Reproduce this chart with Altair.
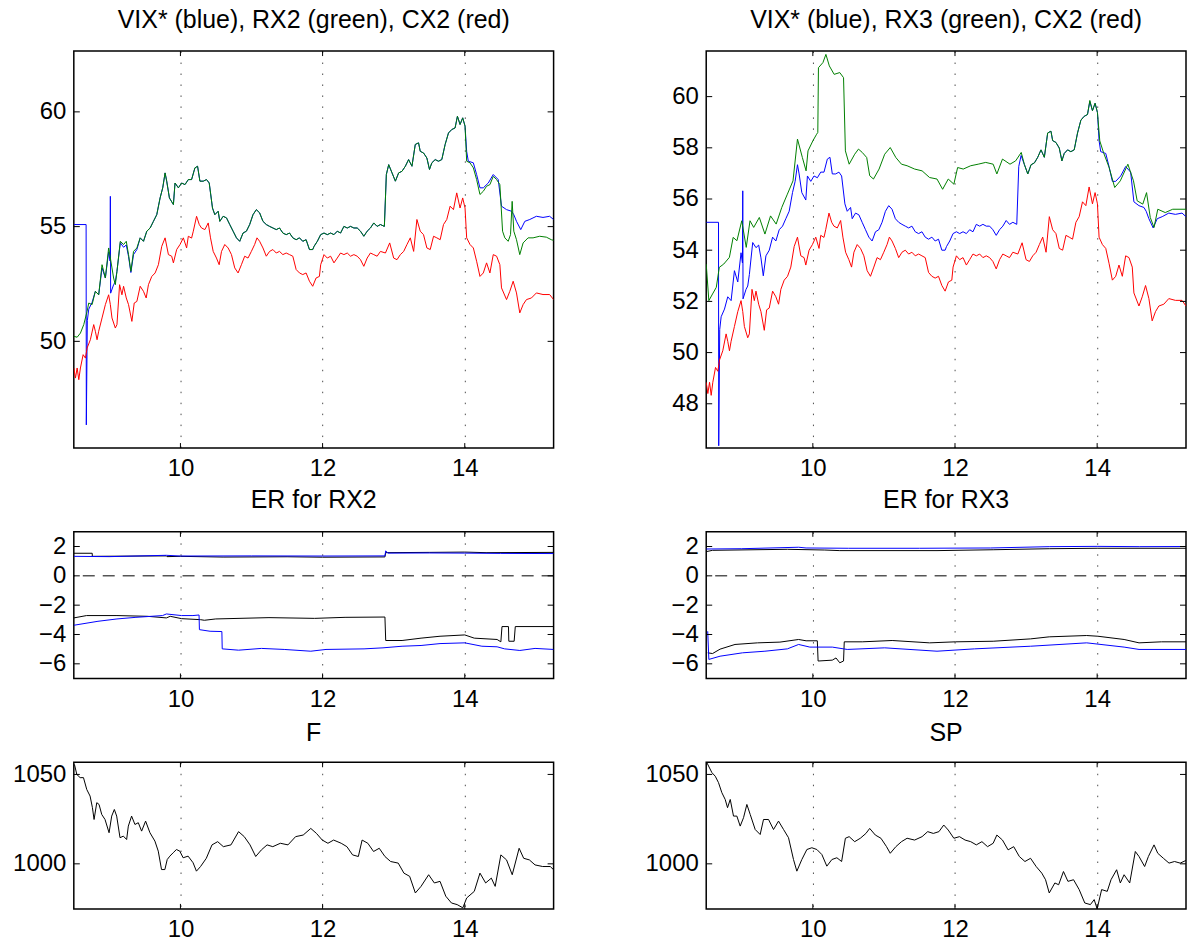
import altair as alt
import pandas as pd

# ---------------- data (time in hours) ----------------
RX2 = [(8.5, 50.22), (8.547, 50.18), (8.593, 50.36), (8.64, 50.73), (8.687, 51.31), (8.71, 51.67), (8.757, 51.6),
       (8.803, 52.18), (8.85, 52.03), (8.897, 53.34), (8.944, 52.76), (8.99, 54.07), (9.014, 53.63), (9.037, 53.2),
       (9.06, 52.76), (9.084, 52.47), (9.107, 53.05), (9.154, 54.36), (9.2, 54.22), (9.238, 54.36), (9.27, 53.78),
       (9.303, 53.05), (9.34, 53.92), (9.387, 54.07), (9.434, 54.51), (9.48, 54.36), (9.527, 54.8), (9.574, 54.94),
       (9.62, 55.23), (9.667, 55.52), (9.714, 56.25), (9.751, 56.69), (9.784, 57.34), (9.807, 56.98),
       (9.845, 56.25), (9.901, 55.96), (9.924, 56.9), (9.971, 56.69), (10.017, 56.9), (10.064, 56.83),
       (10.111, 57.05), (10.157, 57.05), (10.204, 57.56), (10.241, 57.63), (10.274, 56.98), (10.321, 56.98),
       (10.367, 57.05), (10.405, 56.9), (10.451, 55.81), (10.484, 55.52), (10.531, 55.67), (10.554, 55.23),
       (10.601, 55.45), (10.648, 55.38), (10.694, 55.09), (10.741, 54.8), (10.788, 54.51), (10.834, 54.36),
       (10.881, 54.72), (10.928, 54.8), (10.974, 55.09), (11.021, 55.52), (11.068, 55.74), (11.114, 55.6),
       (11.161, 55.23), (11.208, 55.09), (11.254, 55.01), (11.301, 54.94), (11.348, 54.87), (11.394, 54.94),
       (11.441, 54.72), (11.488, 54.65), (11.535, 54.72), (11.581, 54.51), (11.628, 54.43), (11.675, 54.51),
       (11.721, 54.36), (11.768, 54.43), (11.815, 54.0), (11.861, 54.0), (11.88, 54.14), (11.926, 54.36),
       (11.973, 54.65), (12.02, 54.72), (12.066, 54.65), (12.113, 54.72), (12.16, 54.65), (12.206, 54.8),
       (12.253, 54.72), (12.3, 55.01), (12.347, 54.94), (12.393, 55.01), (12.44, 54.94), (12.487, 54.94),
       (12.533, 54.8), (12.58, 54.58), (12.627, 54.8), (12.673, 54.94), (12.72, 55.16), (12.767, 55.01),
       (12.814, 55.09), (12.869, 55.01), (12.897, 57.27), (12.93, 57.7), (12.977, 57.34), (13.024, 56.98),
       (13.07, 57.34), (13.117, 57.41), (13.164, 57.63), (13.21, 57.92), (13.257, 57.63), (13.304, 58.58),
       (13.35, 58.65), (13.374, 58.28), (13.42, 58.21), (13.467, 57.99), (13.504, 57.49), (13.537, 57.78),
       (13.584, 57.92), (13.63, 57.85), (13.677, 57.92), (13.724, 58.58), (13.771, 59.08), (13.817, 59.23),
       (13.864, 59.3), (13.897, 59.81), (13.934, 59.45), (13.971, 59.74), (14.004, 59.38), (14.027, 57.85),
       (14.074, 57.78), (14.121, 57.56), (14.167, 57.05), (14.214, 56.4), (14.261, 56.54), (14.307, 56.76),
       (14.354, 56.83), (14.401, 57.19), (14.448, 57.05), (14.494, 56.83), (14.532, 54.8), (14.564, 54.51),
       (14.611, 54.36), (14.644, 54.65), (14.667, 56.1), (14.69, 54.8), (14.728, 54.43), (14.774, 53.78),
       (14.821, 54.29), (14.891, 54.51), (14.961, 54.51), (15.054, 54.58), (15.148, 54.54), (15.218, 54.43),
       (15.25, 54.4)]

VIX = [(8.5, 55.09), (8.673, 55.09), (8.676, 46.36), (8.69, 50.9), (8.71, 51.4), (8.757, 51.7), (8.803, 52.18),
       (8.85, 52.03), (8.897, 53.2), (8.944, 52.76), (8.99, 53.9), (9.01, 53.5), (9.014, 56.32), (9.018, 52.1),
       (9.06, 52.47), (9.084, 52.6), (9.107, 53.05), (9.154, 54.3), (9.2, 54.1), (9.238, 54.2), (9.27, 53.7),
       (9.303, 53.0), (9.34, 53.78), (9.387, 54.0), (9.434, 54.51), (9.48, 54.36), (9.527, 54.8), (9.574, 54.94),
       (9.62, 55.23), (9.667, 55.52), (9.714, 56.25), (9.751, 56.69), (9.784, 57.34), (9.807, 56.98),
       (9.845, 56.25), (9.901, 55.96), (9.924, 56.9), (9.971, 56.69), (10.017, 56.9), (10.064, 56.83),
       (10.111, 57.05), (10.157, 57.05), (10.204, 57.56), (10.241, 57.63), (10.274, 56.98), (10.321, 56.98),
       (10.367, 57.05), (10.405, 56.9), (10.451, 55.81), (10.484, 55.52), (10.531, 55.67), (10.554, 55.23),
       (10.601, 55.45), (10.648, 55.38), (10.694, 55.09), (10.741, 54.8), (10.788, 54.51), (10.834, 54.36),
       (10.881, 54.72), (10.928, 54.8), (10.974, 55.09), (11.021, 55.52), (11.068, 55.74), (11.114, 55.6),
       (11.161, 55.23), (11.208, 55.09), (11.254, 55.01), (11.301, 54.94), (11.348, 54.87), (11.394, 54.94),
       (11.441, 54.72), (11.488, 54.65), (11.535, 54.72), (11.581, 54.51), (11.628, 54.43), (11.675, 54.51),
       (11.721, 54.36), (11.768, 54.43), (11.815, 54.0), (11.861, 54.0), (11.88, 54.14), (11.926, 54.36),
       (11.973, 54.65), (12.02, 54.72), (12.066, 54.65), (12.113, 54.72), (12.16, 54.65), (12.206, 54.8),
       (12.253, 54.72), (12.3, 55.01), (12.347, 54.94), (12.393, 55.01), (12.44, 54.94), (12.487, 54.94),
       (12.533, 54.8), (12.58, 54.58), (12.627, 54.8), (12.673, 54.94), (12.72, 55.16), (12.767, 55.01),
       (12.814, 55.09), (12.869, 55.01), (12.897, 57.27), (12.93, 57.7), (12.977, 57.34), (13.024, 56.98),
       (13.07, 57.34), (13.117, 57.41), (13.164, 57.63), (13.21, 57.92), (13.257, 57.63), (13.304, 58.58),
       (13.35, 58.65), (13.374, 58.28), (13.42, 58.21), (13.467, 57.99), (13.504, 57.49), (13.537, 57.78),
       (13.584, 57.92), (13.63, 57.85), (13.677, 57.92), (13.724, 58.58), (13.771, 59.08), (13.817, 59.23),
       (13.864, 59.3), (13.897, 59.81), (13.934, 59.45), (13.971, 59.74), (14.004, 59.38), (14.027, 58.28),
       (14.05, 57.85), (14.121, 57.78), (14.167, 57.27), (14.214, 56.69), (14.261, 56.69), (14.331, 56.9),
       (14.401, 57.27), (14.471, 57.05), (14.517, 55.89), (14.588, 55.74), (14.658, 55.67), (14.69, 55.52),
       (14.728, 55.23), (14.788, 54.87), (14.845, 55.23), (14.915, 55.31), (15.008, 55.45), (15.101, 55.4),
       (15.194, 55.45), (15.25, 55.31)]

CX2 = [(8.5, 48.84), (8.523, 48.4), (8.547, 48.84), (8.57, 48.33), (8.593, 48.84), (8.631, 49.42), (8.663, 49.27),
       (8.687, 49.71), (8.733, 50.07), (8.78, 50.73), (8.803, 50.44), (8.827, 50.07), (8.85, 50.44), (8.897, 51.02),
       (8.944, 51.6), (8.99, 52.03), (9.014, 51.6), (9.037, 51.02), (9.084, 50.58), (9.107, 50.73),
       (9.144, 52.47), (9.177, 52.03), (9.2, 52.4), (9.238, 51.89), (9.27, 51.6), (9.317, 50.87), (9.35, 51.67),
       (9.387, 51.74), (9.434, 52.4), (9.48, 52.18), (9.518, 51.89), (9.55, 52.47), (9.597, 52.83),
       (9.644, 52.98), (9.69, 53.34), (9.737, 54.14), (9.784, 54.51), (9.831, 53.78), (9.877, 53.71),
       (9.901, 53.42), (9.947, 54.0), (9.994, 54.22), (10.041, 54.51), (10.087, 54.07), (10.111, 54.58),
       (10.157, 54.5), (10.181, 54.8), (10.227, 55.45), (10.265, 55.09), (10.297, 54.94), (10.344, 54.87),
       (10.391, 55.16), (10.423, 54.51), (10.461, 53.92), (10.507, 53.63), (10.545, 53.34), (10.578, 53.92),
       (10.624, 54.22), (10.671, 54.07), (10.718, 53.78), (10.764, 53.2), (10.811, 52.98), (10.858, 53.34),
       (10.904, 53.71), (10.951, 53.63), (10.998, 53.92), (11.044, 54.22), (11.077, 54.51), (11.114, 54.36),
       (11.161, 54.07), (11.208, 53.71), (11.254, 53.92), (11.301, 54.0), (11.348, 53.85), (11.394, 53.92),
       (11.441, 53.78), (11.488, 53.85), (11.535, 53.78), (11.581, 53.71), (11.628, 53.13), (11.675, 52.98),
       (11.721, 52.91), (11.768, 52.98), (11.815, 52.62), (11.861, 52.4), (11.908, 52.76), (11.955, 52.83),
       (11.973, 53.34), (12.02, 53.78), (12.066, 53.63), (12.113, 53.71), (12.16, 53.42), (12.206, 53.63),
       (12.253, 53.85), (12.3, 53.78), (12.347, 53.85), (12.393, 53.71), (12.44, 53.78), (12.487, 53.71),
       (12.533, 53.56), (12.58, 53.27), (12.627, 53.63), (12.673, 53.85), (12.72, 53.78), (12.767, 53.71),
       (12.814, 53.92), (12.884, 53.85), (12.944, 54.29), (13.0, 53.63), (13.047, 53.56), (13.094, 53.78),
       (13.141, 53.92), (13.187, 54.22), (13.234, 54.51), (13.281, 53.92), (13.327, 55.31), (13.374, 54.8),
       (13.42, 54.65), (13.467, 54.07), (13.514, 54.0), (13.561, 54.58), (13.607, 54.51), (13.654, 54.43),
       (13.701, 55.09), (13.747, 55.31), (13.794, 55.89), (13.841, 55.74), (13.887, 56.47), (13.934, 55.81),
       (13.971, 56.25), (14.004, 55.81), (14.027, 54.51), (14.074, 54.22), (14.121, 54.07), (14.167, 53.49),
       (14.214, 52.83), (14.261, 52.98), (14.307, 53.42), (14.354, 52.98), (14.401, 53.78), (14.448, 53.71),
       (14.494, 53.34), (14.517, 52.33), (14.588, 51.82), (14.634, 52.18), (14.681, 52.62), (14.728, 52.11),
       (14.774, 51.24), (14.821, 51.6), (14.868, 51.82), (14.938, 51.89), (15.008, 52.11), (15.101, 52.04),
       (15.194, 52.04), (15.25, 51.82)]

RX3 = [(8.5, 53.46), (8.537, 52.03), (8.589, 52.29), (8.642, 52.55), (8.684, 53.33), (8.747, 53.46),
       (8.826, 53.72), (8.879, 54.50), (8.932, 54.37), (9.0, 55.15), (9.063, 54.11), (9.116, 55.15),
       (9.168, 54.89), (9.247, 55.28), (9.326, 54.63), (9.405, 55.34), (9.484, 55.02), (9.563, 55.67),
       (9.642, 56.19), (9.721, 56.71), (9.784, 58.34), (9.853, 57.62), (9.905, 57.10), (9.932, 57.88),
       (10.0, 58.27), (10.053, 58.53), (10.07, 58.6), (10.079, 61.13), (10.142, 61.33), (10.184, 61.65),
       (10.232, 61.20), (10.30, 60.87), (10.379, 60.94), (10.432, 60.74), (10.458, 57.88), (10.511, 57.36),
       (10.589, 57.75), (10.642, 57.95), (10.695, 57.82), (10.758, 57.62), (10.80, 56.91), (10.853, 56.78),
       (10.932, 57.17), (11.011, 57.75), (11.089, 58.01), (11.168, 57.62), (11.247, 57.36), (11.326, 57.30),
       (11.432, 57.17), (11.537, 57.10), (11.642, 56.84), (11.747, 56.78), (11.826, 56.38), (11.905, 56.78),
       (11.984, 56.58), (12.037, 57.23), (12.116, 57.17), (12.221, 57.30), (12.326, 57.36), (12.432, 57.43),
       (12.537, 57.36), (12.589, 56.98), (12.668, 57.56), (12.774, 57.36), (12.853, 57.49), (12.932, 57.82),
       (12.977, 57.34), (13.024, 56.98), (13.07, 57.34), (13.117, 57.41), (13.164, 57.63), (13.21, 57.92),
       (13.257, 57.63), (13.304, 58.58), (13.35, 58.65), (13.374, 58.28), (13.42, 58.21), (13.467, 57.99),
       (13.504, 57.49), (13.537, 57.78), (13.584, 57.92), (13.63, 57.85), (13.677, 57.92), (13.724, 58.58),
       (13.771, 59.08), (13.817, 59.23), (13.864, 59.3), (13.897, 59.85), (13.934, 59.45), (13.971, 59.74),
       (14.004, 59.38), (14.037, 58.27), (14.089, 57.82), (14.168, 57.23), (14.247, 56.45), (14.326, 56.71),
       (14.432, 57.36), (14.511, 56.71), (14.563, 55.93), (14.642, 55.80), (14.695, 56.25), (14.747, 55.28),
       (14.80, 54.89), (14.853, 55.60), (14.958, 55.47), (15.063, 55.60), (15.25, 55.60)]

ER2_UP_BLACK = [(8.5, 1.54), (8.759, 1.54), (8.76, 1.33), (9.8, 1.36), (9.81, 1.31), (10.0, 1.33), (10.6, 1.28),
                (11.5, 1.30), (12.0, 1.27), (12.877, 1.29), (12.888, 1.58), (13.5, 1.60), (14.0, 1.62),
                (14.3, 1.58), (15.25, 1.60)]
ER2_UP_BLUE = [(8.5, 1.33), (9.0, 1.31), (9.8, 1.40), (10.0, 1.35), (11.0, 1.36), (12.0, 1.35), (12.877, 1.36),
               (12.888, 1.70), (12.92, 1.55), (13.5, 1.56), (14.0, 1.55), (14.5, 1.53), (15.25, 1.52)]
ER2_LO_BLACK = [(8.5, -2.87), (8.679, -2.71), (9.107, -2.71), (9.535, -2.76), (9.802, -2.87), (9.856, -2.76),
                (10.016, -2.92), (10.283, -2.99), (10.337, -3.03), (10.497, -2.94), (11.246, -2.85),
                (11.888, -2.90), (12.316, -2.83), (12.877, -2.81), (12.888, -4.41), (13.118, -4.41),
                (13.385, -4.25), (13.652, -4.12), (14.0, -4.03), (14.134, -4.25), (14.455, -4.34),
                (14.508, -4.50), (14.524, -3.46), (14.615, -3.46), (14.62, -4.46), (14.695, -4.46),
                (14.711, -3.46), (15.25, -3.46)]
ER2_LO_BLUE = [(8.5, -3.37), (8.84, -3.10), (9.107, -2.94), (9.374, -2.83), (9.749, -2.71), (9.802, -2.60),
               (10.016, -2.71), (10.176, -2.71), (10.262, -2.67), (10.267, -3.67), (10.417, -3.78),
               (10.583, -3.80), (10.588, -4.98), (10.818, -5.07), (11.139, -4.95), (11.46, -5.02),
               (11.834, -5.14), (12.048, -5.02), (12.583, -4.98), (12.85, -4.91), (13.118, -4.80),
               (13.385, -4.75), (13.652, -4.62), (14.0, -4.57), (14.241, -4.80), (14.455, -4.84),
               (14.561, -4.98), (14.775, -5.09), (14.989, -4.95), (15.25, -5.02)]

ER3_UP_BLUE = [(8.5, 1.83), (9.0, 1.85), (9.8, 1.95), (9.905, 1.90), (10.5, 1.88), (11.5, 1.88), (12.5, 1.90),
               (13.326, 1.99), (14.0, 2.01), (14.6, 1.99), (15.25, 2.0)]
ER3_UP_BLACK = [(8.5, 1.65), (8.589, 1.74), (9.642, 1.81), (10.168, 1.76), (10.379, 1.72), (11.747, 1.72),
                (12.537, 1.78), (13.326, 1.85), (14.0, 1.88), (15.25, 1.88)]
ER3_LO_BLACK = [(8.521, -5.25), (8.589, -5.30), (8.695, -5.0), (8.905, -4.68), (9.221, -4.57), (9.537, -4.52),
                (9.80, -4.34), (9.905, -4.43), (10.063, -4.43), (10.074, -5.81), (10.274, -5.75),
                (10.326, -5.6), (10.379, -5.93), (10.432, -5.81), (10.442, -4.50), (10.695, -4.50),
                (11.116, -4.41), (11.642, -4.57), (12.011, -4.50), (12.537, -4.46), (13.063, -4.30),
                (13.326, -4.16), (13.853, -4.07), (14.011, -4.12), (14.379, -4.34), (14.589, -4.57),
                (14.905, -4.50), (15.25, -4.50)]
ER3_LO_BLUE = [(8.521, -3.78), (8.537, -5.70), (8.695, -5.48), (9.011, -5.25), (9.326, -5.14), (9.642, -4.98),
               (9.80, -4.68), (9.958, -4.86), (10.274, -4.86), (10.484, -5.02), (11.011, -4.91),
               (11.747, -5.14), (12.274, -4.98), (13.063, -4.80), (13.853, -4.57), (14.379, -4.86),
               (14.589, -5.02), (15.25, -5.02)]

F = [(8.509, 1055.6), (8.542, 1050.0), (8.589, 1048.2), (8.636, 1048.2), (8.682, 1041.6), (8.729, 1037.9),
     (8.762, 1031.4), (8.785, 1024.8), (8.823, 1034.2), (8.855, 1033.2), (8.893, 1027.6), (8.939, 1024.8),
     (8.996, 1017.4), (9.033, 1026.7), (9.070, 1030.4), (9.103, 1026.7), (9.150, 1014.6), (9.197, 1015.5),
     (9.243, 1013.6), (9.267, 1021.1), (9.313, 1026.7), (9.360, 1022.0), (9.407, 1023.0), (9.454, 1018.3),
     (9.510, 1023.9), (9.571, 1017.4), (9.641, 1012.7), (9.688, 1007.1), (9.734, 996.8), (9.781, 996.8),
     (9.814, 1002.4), (9.851, 1004.3), (9.898, 1006.2), (9.944, 1008.0), (9.991, 1007.1), (10.038, 1003.4),
     (10.108, 1004.3), (10.178, 1000.6), (10.225, 995.9), (10.283, 998.5), (10.364, 1003.1), (10.444, 1010.6),
     (10.524, 1012.4), (10.604, 1009.6), (10.711, 1010.6), (10.818, 1018.0), (10.898, 1015.2), (10.979, 1010.6),
     (11.059, 1004.1), (11.139, 1007.8), (11.219, 1010.6), (11.299, 1009.6), (11.406, 1011.5), (11.513, 1010.6),
     (11.620, 1015.2), (11.727, 1016.1), (11.834, 1019.8), (11.914, 1017.0), (11.995, 1013.3), (12.075, 1011.5),
     (12.155, 1013.3), (12.262, 1011.5), (12.342, 1009.6), (12.422, 1005.0), (12.503, 1004.1), (12.556, 1013.3),
     (12.636, 1011.5), (12.717, 1006.9), (12.797, 1008.7), (12.877, 1004.1), (12.957, 1001.3), (13.064, 1000.4),
     (13.144, 994.8), (13.225, 993.0), (13.305, 983.7), (13.385, 987.4), (13.492, 993.9), (13.572, 989.3),
     (13.652, 990.2), (13.733, 981.9), (13.813, 978.1), (13.893, 977.2), (13.973, 975.4), (14.027, 980.9),
     (14.134, 984.6), (14.214, 994.8), (14.294, 989.3), (14.374, 992.0), (14.428, 987.4), (14.508, 1005.0),
     (14.588, 1002.2), (14.668, 993.9), (14.765, 1008.7), (14.829, 1003.1), (14.909, 1002.2), (14.989, 999.4),
     (15.096, 998.5), (15.203, 998.5), (15.25, 996.7)]

SP = [(8.509, 1056.6), (8.580, 1051.0), (8.627, 1049.0), (8.673, 1045.4), (8.720, 1039.8), (8.767, 1036.0),
      (8.800, 1031.4), (8.838, 1036.0), (8.884, 1026.7), (8.931, 1026.7), (8.978, 1021.1), (9.025, 1025.8),
      (9.072, 1033.2), (9.119, 1027.6), (9.189, 1019.2), (9.259, 1016.4), (9.306, 1024.8), (9.377, 1024.8),
      (9.447, 1019.2), (9.517, 1023.9), (9.588, 1019.2), (9.658, 1014.6), (9.728, 1002.4), (9.775, 995.9),
      (9.845, 1002.4), (9.916, 1008.0), (9.986, 1009.0), (10.057, 1008.0), (10.127, 1005.2), (10.197, 998.7),
      (10.268, 1002.4), (10.338, 1003.4), (10.405, 1001.3), (10.458, 1014.3), (10.511, 1015.2), (10.589, 1012.4),
      (10.668, 1014.3), (10.747, 1017.0), (10.80, 1019.8), (10.879, 1016.1), (10.958, 1014.3), (11.037, 1009.6),
      (11.089, 1005.9), (11.168, 1009.6), (11.247, 1012.4), (11.326, 1014.3), (11.432, 1013.3), (11.537, 1015.2),
      (11.616, 1018.0), (11.695, 1017.0), (11.774, 1018.0), (11.842, 1021.7), (11.905, 1018.9), (11.984, 1014.3),
      (12.063, 1015.2), (12.142, 1013.3), (12.221, 1012.4), (12.30, 1010.6), (12.379, 1012.4), (12.458, 1009.6),
      (12.537, 1011.5), (12.589, 1016.1), (12.668, 1013.3), (12.747, 1007.8), (12.826, 1009.6), (12.905, 1004.1),
      (12.984, 1001.3), (13.063, 1003.1), (13.142, 998.5), (13.221, 994.8), (13.274, 991.1), (13.326, 983.7),
      (13.405, 989.3), (13.458, 988.3), (13.526, 995.7), (13.589, 990.2), (13.668, 991.1), (13.747, 985.6),
      (13.826, 978.1), (13.905, 977.2), (13.958, 980.0), (14.0, 974.8), (14.063, 985.6), (14.142, 984.6),
      (14.195, 991.1), (14.274, 996.7), (14.326, 989.3), (14.379, 993.9), (14.458, 989.3), (14.537, 1006.9),
      (14.589, 1004.1), (14.668, 998.5), (14.721, 1004.1), (14.80, 1010.6), (14.853, 1005.9), (14.932, 1003.1),
      (15.011, 1000.4), (15.089, 1001.3), (15.168, 1000.4), (15.25, 1001.9)]

X_TICKS = [10, 12, 14]
X_DOMAIN = [8.5, 15.25]
TOP_LEFT_TICKS = [50, 55, 60]
TOP_RIGHT_TICKS = [48, 50, 52, 54, 56, 58, 60]
ER_TICKS = [-6, -4, -2, 0, 2]
PRICE_TICKS = [1000, 1050]

BLUE, GREEN, RED, BLACK = "#0000FF", "#008000", "#FF0000", "#000000"
FONT = "Liberation Sans"
W = 481


def frame(pairs):
    return pd.DataFrame(pairs, columns=["t", "v"])


def panel(title, series, ydomain, yticks, h, zero_line=False, title_offset=18):
    xs = alt.Scale(domain=X_DOMAIN, nice=False, zero=False)
    ys = alt.Scale(domain=ydomain, nice=False, zero=False)
    xaxis = alt.Axis(values=X_TICKS, grid=True, ticks=False, domain=False, labelPadding=9, format="d")
    yaxis = alt.Axis(values=yticks, grid=False, ticks=False, domain=False, labelPadding=8, format="d")
    X = alt.X("t:Q", scale=xs, axis=xaxis, title=None)
    layers = []
    for pairs, color in series:
        layers.append(
            alt.Chart(frame(pairs)).mark_line(color=color, strokeWidth=1, clip=True, interpolate="linear")
            .encode(x=X, y=alt.Y("v:Q", scale=ys, axis=yaxis, title=None))
        )
    if zero_line:
        layers.append(
            alt.Chart(pd.DataFrame({"y": [0]})).mark_rule(color=BLACK, strokeWidth=1, strokeDash=[12, 8])
            .encode(y=alt.Y("y:Q", scale=ys, axis=yaxis, title=None))
        )
    ydf = pd.DataFrame({"y": yticks})
    xdf = pd.DataFrame({"t": X_TICKS})
    Yt = alt.Y("y:Q", scale=ys, axis=yaxis, title=None)
    layers.append(alt.Chart(ydf).mark_rule(color=BLACK, strokeWidth=1)
                  .encode(y=Yt, x=alt.value(0), x2=alt.value(6)))
    layers.append(alt.Chart(ydf).mark_rule(color=BLACK, strokeWidth=1)
                  .encode(y=Yt, x=alt.value(W - 6), x2=alt.value(W)))
    layers.append(alt.Chart(xdf).mark_rule(color=BLACK, strokeWidth=1)
                  .encode(x=X, y=alt.value(h - 5), y2=alt.value(h)))
    layers.append(alt.Chart(xdf).mark_rule(color=BLACK, strokeWidth=1)
                  .encode(x=X, y=alt.value(0), y2=alt.value(5)))
    return alt.layer(*layers).properties(
        width=W, height=h,
        title=alt.TitleParams(title, font=FONT, fontSize=25, fontWeight="normal", color=BLACK,
                              offset=title_offset, anchor="middle"),
    )


tl = panel("VIX* (blue), RX2 (green), CX2 (red)", [(VIX, BLUE), (RX2, GREEN), (CX2, RED)],
           [45.35, 62.65], TOP_LEFT_TICKS, 398)
tr = panel("VIX* (blue), RX3 (green), CX2 (red)", [(VIX, BLUE), (RX3, GREEN), (CX2, RED)],
           [46.27, 61.78], TOP_RIGHT_TICKS, 398)
ml = panel("ER for RX2", [(ER2_UP_BLACK, BLACK), (ER2_LO_BLACK, BLACK), (ER2_UP_BLUE, BLUE), (ER2_LO_BLUE, BLUE)],
           [-7, 3], ER_TICKS, 147, zero_line=True)
mr = panel("ER for RX3", [(ER3_UP_BLACK, BLACK), (ER3_LO_BLACK, BLACK), (ER3_UP_BLUE, BLUE), (ER3_LO_BLUE, BLUE)],
           [-7, 3], ER_TICKS, 147, zero_line=True)
bl = panel("F", [(F, BLACK)], [974.8, 1056.8], PRICE_TICKS, 147, title_offset=15.5)
br = panel("SP", [(SP, BLACK)], [974.8, 1056.8], PRICE_TICKS, 147, title_offset=15.5)

chart = alt.concat(
    tl, tr, ml, mr, bl, br,
    columns=2,
    spacing=alt.RowColnumber(row=84, column=153),
    bounds="flush",
).properties(
    padding={"left": 11, "top": 5, "right": 0, "bottom": 0}
).configure(
    font=FONT,
    background="white",
).configure_view(
    stroke=BLACK, strokeWidth=1.5
).configure_axis(
    labelFont=FONT, labelFontSize=24, labelColor=BLACK,
    gridColor="#000000", gridDash=[1.5, 9.5], gridWidth=1, gridOpacity=0.7,
)

chart.save("out.html", embed_options={"renderer": "svg", "actions": False})
